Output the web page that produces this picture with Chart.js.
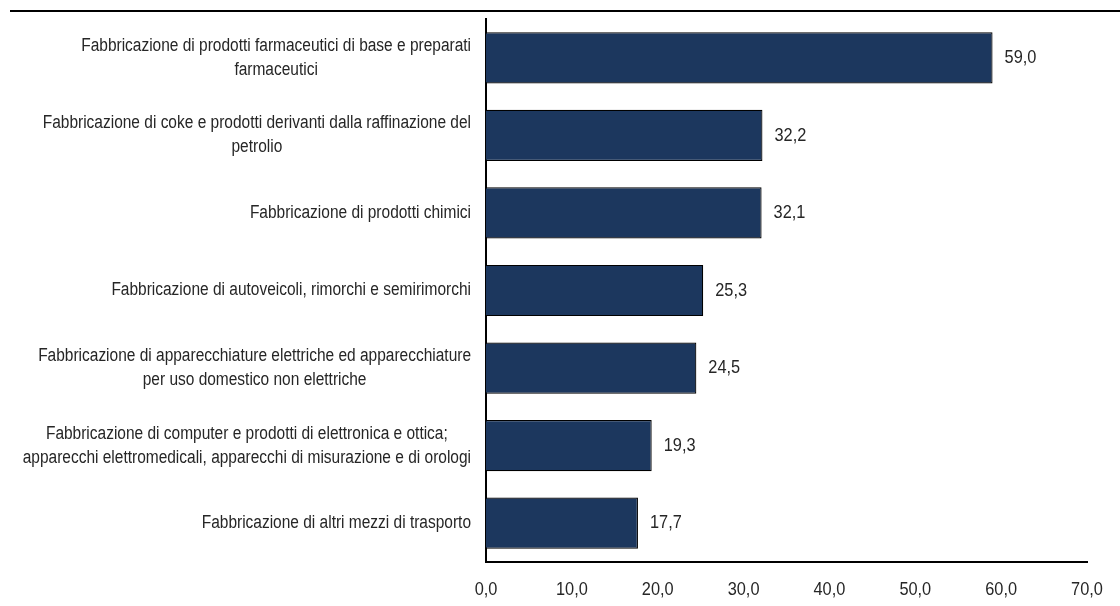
<!DOCTYPE html>
<html>
<head>
<meta charset="utf-8">
<script src="https://cdn.jsdelivr.net/npm/chart.js@4.4.1/dist/chart.umd.min.js"></script>
<style>
  html, body { margin: 0; padding: 0; background: #fff; }
  #wrap { width: 1120px; height: 606px; }
</style>
</head>
<body>
<div id="wrap"><canvas id="barChart" width="1120" height="606"></canvas></div>
<script>
const categories = [
    ["Fabbricazione di prodotti farmaceutici di base e preparati", "farmaceutici"],
    ["Fabbricazione di coke e prodotti derivanti dalla raffinazione del", "petrolio"],
    ["Fabbricazione di prodotti chimici"],
    ["Fabbricazione di autoveicoli, rimorchi e semirimorchi"],
    ["Fabbricazione di apparecchiature elettriche ed apparecchiature", "per uso domestico non elettriche"],
    ["Fabbricazione di computer e prodotti di elettronica e ottica;", "apparecchi elettromedicali, apparecchi di misurazione e di orologi"],
    ["Fabbricazione di altri mezzi di trasporto"]
];
const values = [59.0, 32.2, 32.1, 25.3, 24.5, 19.3, 17.7];
const xTicks = [0, 10, 20, 30, 40, 50, 60, 70];

const FONT = '"Liberation Sans", Arial, sans-serif';
const TEXT = "#262626";
const NARROW = 0.86; // fake Arial Narrow by squeezing horizontally

function fmt(v) {
    return v.toFixed(1).replace(".", ",");
}

// draw squeezed text; align: left / center / right
function narrowText(ctx, txt, x, y, align) {
    const w = ctx.measureText(txt).width * NARROW;
    let left = x;
    if (align === "center") left = x - w / 2;
    else if (align === "right") left = x - w;
    ctx.save();
    ctx.translate(left, y);
    ctx.scale(NARROW, 1);
    ctx.textAlign = "left";
    ctx.fillText(txt, 0, 0);
    ctx.restore();
    return w;
}

const labelsPlugin = {
    id: "labelsPlugin",
    afterDraw(chart) {
        const ctx = chart.ctx;
        const y = chart.scales.y;
        const x = chart.scales.x;
        ctx.save();

        // top rule
        ctx.strokeStyle = "#000";
        ctx.lineWidth = 2;
        ctx.beginPath();
        ctx.moveTo(10, 11);
        ctx.lineTo(1120, 11);
        ctx.stroke();

        ctx.fillStyle = TEXT;
        ctx.textBaseline = "middle";

        // category labels, block right aligned, lines centred
        ctx.font = "18px " + FONT;
        const right = 471;
        const lh = 24;
        categories.forEach((lines, i) => {
            const cy = y.getPixelForValue(i);
            let w = 0;
            lines.forEach(l => { w = Math.max(w, ctx.measureText(l).width * NARROW); });
            const cx = right - w / 2;
            lines.forEach((l, j) => {
                narrowText(ctx, l, cx, cy + (j - (lines.length - 1) / 2) * lh, "center");
            });
        });

        // value labels
        ctx.font = "19px " + FONT;
        values.forEach((v, i) => {
            narrowText(ctx, fmt(v), x.getPixelForValue(v) + 12, y.getPixelForValue(i), "left");
        });

        // x tick labels
        xTicks.forEach(v => {
            narrowText(ctx, fmt(v), x.getPixelForValue(v), x.top + 28, "center");
        });
        ctx.restore();
    }
};

new Chart(document.getElementById("barChart"), {
    type: "bar",
    data: {
        labels: categories,
        datasets: [{
            data: values,
            backgroundColor: "#1c375e",
            borderColor: "#000",
            borderWidth: 1.2,
            barPercentage: 0.66,
            categoryPercentage: 1
        }]
    },
    options: {
        indexAxis: "y",
        responsive: false,
        animation: false,
        layout: { padding: { top: 19, right: 33, left: 0, bottom: 0 } },
        plugins: {
            legend: { display: false },
            tooltip: { enabled: false }
        },
        scales: {
            x: {
                min: 0,
                max: 70,
                afterBuildTicks: s => { s.ticks = xTicks.map(v => ({ value: v })); },
                afterFit: s => { s.height = 44; },
                grid: { display: false },
                border: { display: true, color: "#000", width: 2 },
                ticks: { display: false }
            },
            y: {
                afterFit: s => { s.width = 486; },
                grid: { display: false },
                border: { display: true, color: "#000", width: 2 },
                ticks: { display: false }
            }
        }
    },
    plugins: [labelsPlugin]
});
</script>
</body>
</html>
